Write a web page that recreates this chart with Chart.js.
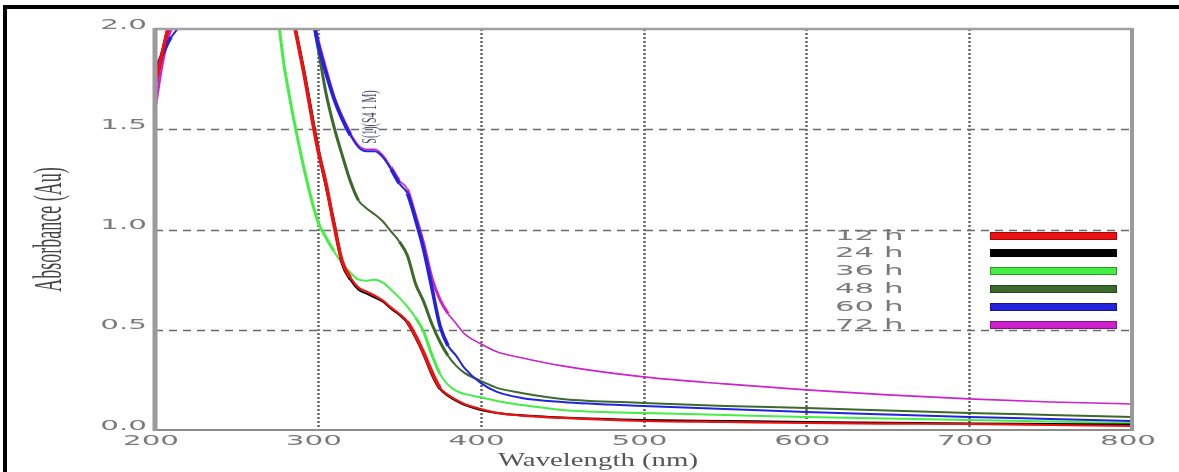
<!DOCTYPE html>
<html><head><meta charset="utf-8">
<script src="https://cdn.jsdelivr.net/npm/chart.js@4.4.0/dist/chart.umd.min.js"></script>
<style>
html,body{margin:0;padding:0;background:#fff;}
#wrap{position:relative;width:1179px;height:472px;overflow:hidden;background:#fff;}
#frame{position:absolute;left:3px;top:5px;right:-10px;bottom:-10px;border-top:4px solid #000;border-left:4px solid #000;pointer-events:none;}
canvas{position:absolute;left:0;top:0;}
</style></head><body>
<div id="wrap"><canvas id="c" width="1179" height="472"></canvas><div id="frame"></div></div>
<script>
// ---- data ----
const wavelengths = [200,205,210,270,280,290,300,305,310,315,320,325,330,335,340,345,350,355,360,365,370,375,380,385,390,400,410,425,450,500,550,600,650,700,750,800];
const abs12h = [1.72,1.90,2.05,2.30,2.20,1.84,1.40,1.23,1.02,0.84,0.76,0.71,0.69,0.67,0.645,0.61,0.58,0.54,0.47,0.385,0.29,0.21,0.175,0.15,0.13,0.105,0.085,0.072,0.06,0.045,0.04,0.035,0.032,0.03,0.025,0.02];
const abs24h = [1.72,1.90,2.05,2.30,2.20,1.85,1.41,1.22,1.03,0.83,0.75,0.70,0.68,0.66,0.64,0.605,0.575,0.535,0.465,0.38,0.28,0.205,0.17,0.145,0.125,0.10,0.085,0.073,0.062,0.05,0.045,0.04,0.036,0.032,0.03,0.028];
const abs36h = [1.74,1.90,2.05,2.30,1.78,1.36,1.04,0.96,0.89,0.83,0.785,0.75,0.745,0.75,0.735,0.70,0.66,0.615,0.56,0.49,0.375,0.28,0.225,0.195,0.18,0.163,0.145,0.125,0.10,0.085,0.075,0.065,0.057,0.05,0.042,0.035];
const abs48h = [1.76,1.90,2.05,2.30,2.30,2.30,1.91,1.68,1.51,1.37,1.24,1.145,1.105,1.075,1.04,0.99,0.94,0.87,0.73,0.64,0.53,0.44,0.37,0.32,0.285,0.245,0.21,0.185,0.155,0.135,0.12,0.11,0.097,0.085,0.075,0.065];
const abs60h = [1.80,1.88,1.96,2.30,2.30,2.30,1.93,1.78,1.65,1.55,1.47,1.41,1.39,1.39,1.36,1.30,1.23,1.18,1.05,0.90,0.71,0.52,0.42,0.37,0.31,0.235,0.19,0.16,0.14,0.12,0.105,0.09,0.077,0.065,0.055,0.045];
const abs72h = [1.60,1.85,2.00,2.30,2.30,2.30,1.95,1.80,1.66,1.56,1.48,1.42,1.40,1.40,1.37,1.31,1.245,1.20,1.07,0.93,0.76,0.65,0.58,0.53,0.48,0.43,0.39,0.36,0.32,0.265,0.23,0.20,0.175,0.155,0.14,0.13];
const seriesLabels = ['12 h','24 h','36 h','48 h','60 h','72 h'];
const seriesValues = [abs12h, abs24h, abs36h, abs48h, abs60h, abs72h];
const xTickValues = [200,300,400,500,600,700,800];
const yTickValues = [0,0.5,1.0,1.5,2.0];
const annotationText = 'S(1)(S4 1 M)';
const xTitle = 'Wavelength (nm)';
const yTitle = 'Absorbance (Au)';

// ---- styles ----
const colors = ['#ee1111','#000000','#44ee44','#3b6a2c','#2323dd','#cc22cc'];
const widths = [2.2,2,2,2,2,1.6];
const steepWidths = [3.6,3,3,3,3.6,3];
const drawOrder = [0,1,4,5,2,3];

function stretchWrap(scale, method, sx, dx) {
  const key = '_wrapped_' + method;
  if (scale[key]) return;
  scale[key] = true;
  const orig = scale[method];
  scale[method] = function(...args) {
    const ctx = this.ctx;
    const protoRotate = CanvasRenderingContext2D.prototype.rotate;
    ctx.save();
    if (dx) ctx.translate(dx, 0);
    ctx.rotate = function(a) {
      protoRotate.call(this, a);
      if (Math.abs(Math.abs(a) - Math.PI / 2) < 1e-3) this.scale(1, sx); else this.scale(sx, 1);
    };
    try { orig.apply(this, args); }
    finally { delete ctx.rotate; ctx.restore(); }
  };
}

function stretchedText(ctx, text, x, y, sx, rot, font, color, align) {
  ctx.save();
  ctx.translate(x, y);
  if (rot) { ctx.rotate(rot); ctx.scale(1, sx); } else { ctx.scale(sx, 1); }
  ctx.font = font;
  ctx.fillStyle = color;
  ctx.textAlign = align || 'left';
  ctx.textBaseline = 'middle';
  ctx.fillText(text, 0, 0);
  ctx.restore();
}

const decoPlugin = {
  id: 'deco',
  beforeDraw(chart) {
    stretchWrap(chart.scales.x, 'drawLabels', 2.1, 0);
    stretchWrap(chart.scales.y, 'drawLabels', 2.1, 0);
    const xs = chart.scales.x;
    stretchWrap(xs, 'drawTitle', 1.6, 598 - (xs.left + xs.right) / 2);
    stretchWrap(chart.scales.y, 'drawTitle', 2.2, 0);
  },
  beforeDatasetsDraw(chart) {
    const {ctx, chartArea: a, scales: {x, y}} = chart;
    ctx.save();
    ctx.strokeStyle = 'rgba(60,60,60,0.8)';
    ctx.lineWidth = 2.5;
    ctx.setLineDash([2, 2]);
    xTickValues.slice(1, -1).forEach(v => {
      const px = Math.round(x.getPixelForValue(v)) + 0.5;
      ctx.beginPath(); ctx.moveTo(px, a.top); ctx.lineTo(px, a.bottom); ctx.stroke();
    });
    ctx.strokeStyle = '#6a6a6a';
    ctx.lineWidth = 1.3;
    ctx.setLineDash([8, 6]);
    yTickValues.slice(1, -1).forEach(v => {
      const py = Math.round(y.getPixelForValue(v)) + 0.5;
      ctx.beginPath(); ctx.moveTo(a.left, py); ctx.lineTo(a.right, py); ctx.stroke();
    });
    ctx.restore();
  },
  afterDatasetsDraw(chart) {
    const {ctx, chartArea: a} = chart;
    ctx.save();
    ctx.setLineDash([]);
    ctx.strokeStyle = '#a0a0a0';
    ctx.lineWidth = 2.5;
    ctx.beginPath(); ctx.moveTo(a.left, a.top); ctx.lineTo(a.right, a.top); ctx.stroke();
    ctx.strokeStyle = '#8c8c8c';
    ctx.lineWidth = 2;
    ctx.beginPath(); ctx.moveTo(a.left, a.bottom); ctx.lineTo(a.right + 2, a.bottom); ctx.stroke();
    ctx.strokeStyle = '#9a9a9a';
    ctx.lineWidth = 5;
    ctx.beginPath(); ctx.moveTo(a.left, a.top - 1); ctx.lineTo(a.left, a.bottom + 1); ctx.stroke();
    ctx.lineWidth = 4;
    ctx.beginPath(); ctx.moveTo(a.right, a.top - 1); ctx.lineTo(a.right, a.bottom + 1); ctx.stroke();
    ctx.restore();

    const legY = [236, 253, 271, 289, 307, 325];
    chart.data.datasets.forEach((ds, i) => {
      stretchedText(ctx, ds.label, 835, legY[i], 2.2, 0, '14px "DejaVu Sans"', '#7a7a7a', 'left');
      ctx.save();
      ctx.fillStyle = ds.borderColor;
      ctx.fillRect(990, legY[i] - 4, 127, 8);
      ctx.strokeStyle = 'rgba(0,0,0,0.35)';
      ctx.lineWidth = 1;
      ctx.strokeRect(990.5, legY[i] - 3.5, 126, 7);
      ctx.restore();
    });
    stretchedText(ctx, annotationText, 370, 117, 2.1, -Math.PI / 2, '10px "Liberation Serif"', '#4d4d6e', 'center');
  }
};

const datasets = seriesValues.map((vals, i) => ({
  label: seriesLabels[i],
  data: wavelengths.map((w, j) => ({x: w, y: vals[j]})),
  borderColor: colors[i],
  backgroundColor: colors[i],
  borderWidth: widths[i],
  order: drawOrder[i],
  pointRadius: 0,
  fill: false,
  cubicInterpolationMode: 'monotone',
  segment: {
    borderWidth: c => {
      const dx = Math.abs(c.p1.x - c.p0.x), dy = Math.abs(c.p1.y - c.p0.y);
      return dy > 1.5 * dx ? steepWidths[i] : widths[i];
    }
  }
}));

const tickFont = {family: 'DejaVu Sans', size: 14};

new Chart(document.getElementById('c'), {
  type: 'line',
  data: {datasets},
  plugins: [decoPlugin],
  options: {
    responsive: false,
    animation: false,
    events: [],
    layout: {padding: {left: 0, top: 29, right: 47, bottom: 0}},
    plugins: {legend: {display: false}, tooltip: {enabled: false}},
    scales: {
      x: {
        type: 'linear', min: 200, max: 800,
        afterBuildTicks: s => { s.ticks = xTickValues.map(v => ({value: v})); },
        ticks: {font: tickFont, color: '#7a7a7a', padding: 3, labelOffset: -4, maxRotation: 0, autoSkip: false},
        grid: {display: false, drawTicks: false},
        border: {display: false},
        title: {display: true, text: xTitle, font: {family: 'Liberation Serif', size: 18}, color: '#555555', padding: {top: 0, bottom: 0}},
        afterFit: s => { s.height = 42; }
      },
      y: {
        type: 'linear', min: 0, max: 2,
        afterBuildTicks: s => { s.ticks = yTickValues.map(v => ({value: v})); },
        ticks: {font: tickFont, color: '#7a7a7a', padding: 8, labelOffset: -4, callback: v => Number(v).toFixed(1)},
        grid: {display: false, drawTicks: false},
        border: {display: false},
        title: {display: true, text: yTitle, font: {family: 'Liberation Serif', size: 18}, color: '#444444', padding: {top: 40, bottom: 0}},
        afterFit: s => { s.width = 155; }
      }
    }
  }
});
</script>
</body></html>
